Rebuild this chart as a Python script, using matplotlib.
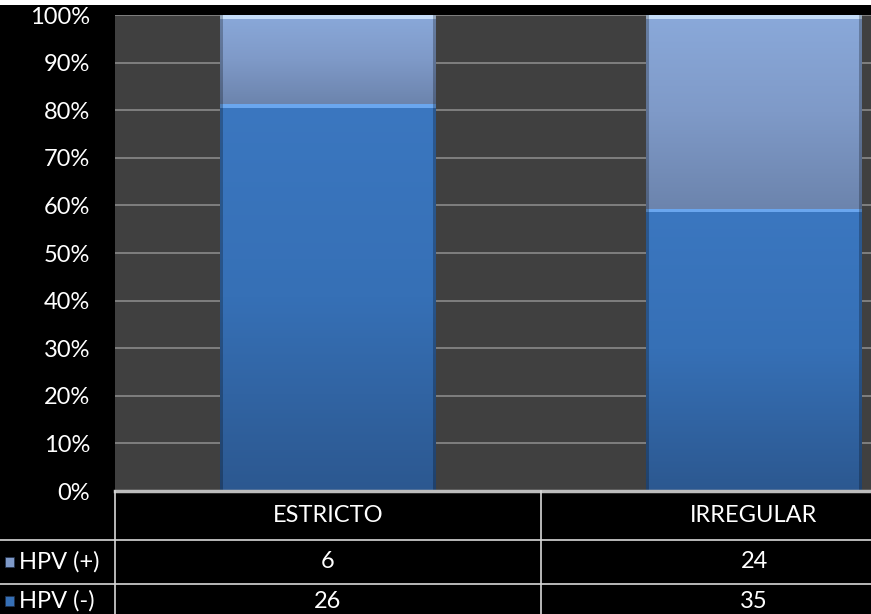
import numpy as np
import matplotlib.pyplot as plt
from matplotlib.patches import Rectangle
from matplotlib.colors import LinearSegmentedColormap
from matplotlib.transforms import blended_transform_factory
from matplotlib.ticker import PercentFormatter

plt.rcParams['font.family'] = ['Lato', 'DejaVu Sans']

categories = ["ESTRICTO", "IRREGULAR"]
series_names = ["HPV (+)", "HPV (-)"]
hpv_pos = [6, 24]
hpv_neg = [26, 35]

W, H = 871, 614
fig = plt.figure(figsize=(W / 100, H / 100), dpi=100, facecolor="black")

# plot area runs past the right edge (picture is cropped)
px_left, px_right, px_top, px_bottom = 115, 967, 15, 491
ax = fig.add_axes([px_left / W, 1 - px_bottom / H,
                   (px_right - px_left) / W, (px_bottom - px_top) / H])
ax.set_facecolor("#404040")
for s in ax.spines.values():
    s.set_visible(False)

tot = np.array(hpv_pos) + np.array(hpv_neg)
neg_frac = np.array(hpv_neg) / tot
pos_frac = np.array(hpv_pos) / tot
x = np.arange(len(categories))
bw = 0.507
fs = 17

ax.set_xlim(-0.5, len(categories) - 0.5)
ax.set_ylim(0, 1)
ax.set_yticks(np.arange(0, 1.01, 0.1))
ax.yaxis.set_major_formatter(PercentFormatter(1.0, decimals=0))
ax.set_xticks([])
ax.tick_params(axis="y", length=0, pad=18, labelcolor="white", labelsize=fs)
ax.grid(axis="y", color="#8a8a8a", linewidth=1.2)
ax.set_axisbelow(True)

cmap_neg = LinearSegmentedColormap.from_list("neg", ["#2c5890", "#3670b6", "#3b77c0"])
cmap_pos = LinearSegmentedColormap.from_list("pos", ["#6c84ad", "#7f9ac8", "#8aa9da"])


def grad_bar(xc, bottom, height, cmap, top_hi):
    rect = Rectangle((xc - bw / 2, bottom), bw, height, facecolor="none",
                     edgecolor="none", zorder=3)
    ax.add_patch(rect)
    grad = np.linspace(0, 1, 256).reshape(-1, 1)
    im = ax.imshow(grad, cmap=cmap, origin="lower", aspect="auto",
                   extent=(xc - bw / 2, xc + bw / 2, bottom, bottom + height),
                   zorder=2.5)
    im.set_clip_path(rect)
    # thin bevel highlight on top
    ax.add_patch(Rectangle((xc - bw / 2, bottom + height - 0.008), bw, 0.008,
                           facecolor=top_hi, edgecolor="none", zorder=3))
    # dark edges
    ax.add_patch(Rectangle((xc - bw / 2, bottom), 0.006, height,
                           facecolor="black", alpha=0.25, edgecolor="none", zorder=3))
    ax.add_patch(Rectangle((xc + bw / 2 - 0.006, bottom), 0.006, height,
                           facecolor="black", alpha=0.25, edgecolor="none", zorder=3))


for i in x:
    grad_bar(i, 0, neg_frac[i], cmap_neg, "#6aa6ee")
    grad_bar(i, neg_frac[i], pos_frac[i], cmap_pos, "#c4dcf8")

ax.set_xlim(-0.5, len(categories) - 0.5)
ax.set_ylim(0, 1)

# data table below the plot
tr = blended_transform_factory(ax.transData, fig.transFigure)
fy = lambda py: 1 - py / H
line_c = "#d8d8d8"

fig.add_artist(plt.Line2D([px_left / W, 1], [fy(px_bottom)] * 2,
                          color="#bdbdbd", lw=2.5))
for py in [540, 584]:
    fig.add_artist(plt.Line2D([0, 1], [fy(py)] * 2, color=line_c, lw=1.2))
for bx in [-0.5, 0.5]:
    fig.add_artist(plt.Line2D([bx, bx], [fy(px_bottom), 0], color=line_c,
                              lw=1.2, transform=tr))

row_y = [562, 601]
for i, cat in enumerate(categories):
    fig.text(i, fy(516), cat, transform=tr, ha="center", va="center",
             color="white", fontsize=fs)
    fig.text(i, fy(row_y[0]), str(hpv_pos[i]), transform=tr, ha="center",
             va="center", color="white", fontsize=fs)
    fig.text(i, fy(row_y[1]), str(hpv_neg[i]), transform=tr, ha="center",
             va="center", color="white", fontsize=fs)

key_cols = ["#7f9ac8", "#3670b6"]
for name, py, kc in zip(series_names, row_y, key_cols):
    fig.add_artist(Rectangle((5 / W, fy(py + 5)), 9 / W, 10 / H,
                             facecolor=kc, edgecolor="#20304a", lw=0.5,
                             transform=fig.transFigure))
    fig.text(19 / W, fy(py), name, ha="left", va="center", color="white",
             fontsize=fs)

# white strip along the very top
fig.add_artist(Rectangle((0, fy(5)), 1, 5 / H, facecolor="white",
                         edgecolor="none", transform=fig.transFigure))

fig.savefig("out.png", dpi=100, facecolor="black")
